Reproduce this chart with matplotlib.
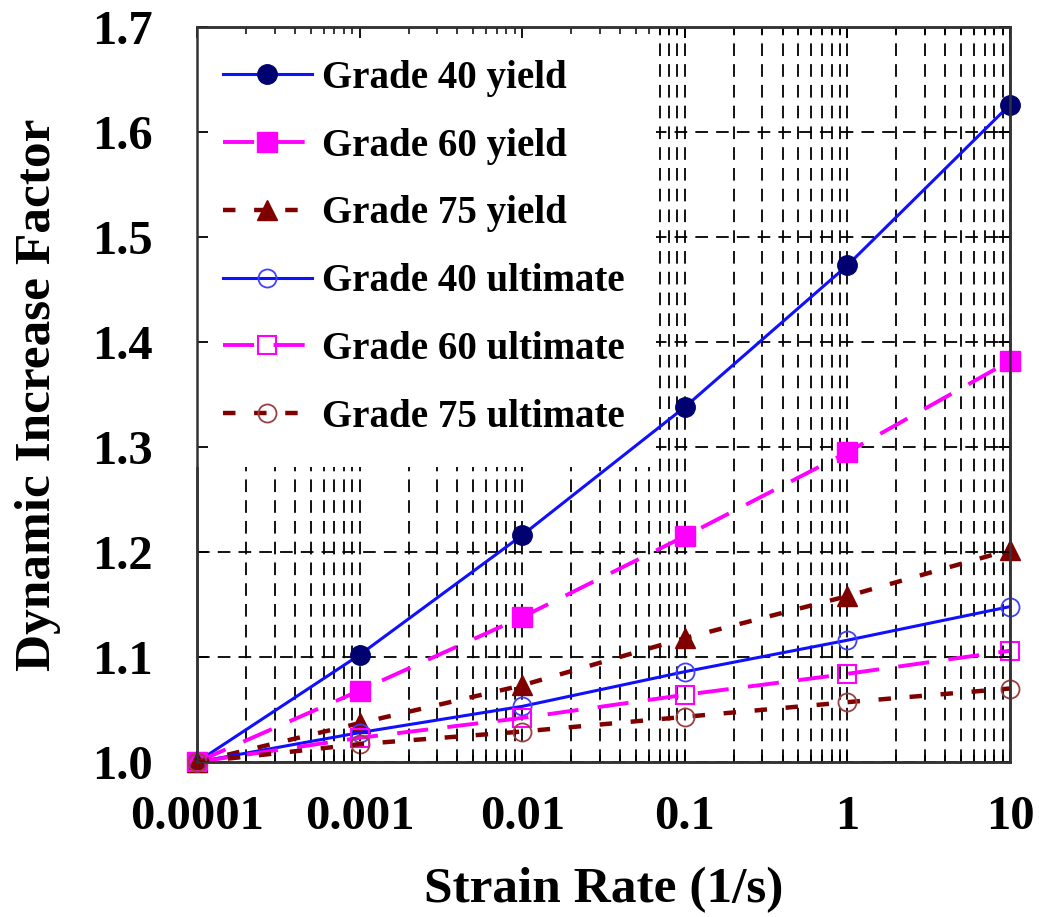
import matplotlib
matplotlib.use("Agg")
import matplotlib.pyplot as plt
from matplotlib.ticker import LogLocator, NullFormatter, FixedLocator, FixedFormatter

strain_rate = [1e-4, 1e-3, 1e-2, 1e-1, 1, 10]
x_ticklabels = ["0.0001", "0.001", "0.01", "0.1", "1", "10"]
y_ticks = [1.0, 1.1, 1.2, 1.3, 1.4, 1.5, 1.6, 1.7]
y_ticklabels = ['1.0', '1.1', '1.2', '1.3', '1.4', '1.5', '1.6', '1.7']

g40_yield = [1.0, 1.102, 1.216, 1.338, 1.473, 1.626]
g60_yield = [1.0, 1.068, 1.138, 1.215, 1.295, 1.382]
g75_yield = [1.0, 1.037, 1.073, 1.118, 1.158, 1.202]
g40_ult = [1.0, 1.028, 1.053, 1.086, 1.116, 1.148]
g60_ult = [1.0, 1.023, 1.042, 1.064, 1.084, 1.106]
g75_ult = [1.0, 1.017, 1.029, 1.043, 1.057, 1.070]

plt.rcParams['font.family'] = ['Liberation Serif', 'DejaVu Serif']
plt.rcParams['font.weight'] = 'bold'

fig = plt.figure(figsize=(10.39, 9.17), dpi=100)
pos = [197/1039, 1-762/917, (1010-197)/1039, (762-27)/917]
ax = fig.add_axes(pos)

blue = '#1010ff'
navy = '#000070'
mag = '#ff00ff'
dred = '#800000'
brown = '#9b4040'

common = dict(clip_on=False, zorder=5)
ax.plot(strain_rate, g40_yield, '-', color=blue, lw=2.2, marker='o', ms=14,
        mfc=navy, mec=navy, label='Grade 40 yield', **common)
ax.plot(strain_rate, g60_yield, color=mag, lw=2.8, dashes=(8, 5), marker='s', ms=14,
        mfc=mag, mec=mag, label='Grade 60 yield', **common)
ax.plot(strain_rate, g75_yield, color=dred, lw=3.2, dashes=(2.8, 4.2), marker='^', ms=14,
        mfc=dred, mec=dred, label='Grade 75 yield', **common)
ax.plot(strain_rate, g40_ult, '-', color=blue, lw=2.2, marker='o', ms=13,
        mfc='none', mec='#4040ff', mew=1.3, label='Grade 40 ultimate', **common)
ax.plot(strain_rate, g60_ult, color=mag, lw=2.8, dashes=(8, 5), marker='s', ms=13,
        mfc='none', mec=mag, mew=1.5, label='Grade 60 ultimate', **common)
ax.plot(strain_rate, g75_ult, color=dred, lw=3.2, dashes=(2.8, 4.2), marker='o', ms=13,
        mfc='none', mec=brown, mew=1.3, label='Grade 75 ultimate', **common)


def setup_axis(a):
    a.set_xscale('log')
    a.set_xlim(1e-4, 10)
    a.set_ylim(1.0, 1.7)
    a.xaxis.set_major_locator(FixedLocator(strain_rate))
    a.xaxis.set_major_formatter(FixedFormatter(x_ticklabels))
    a.xaxis.set_minor_locator(LogLocator(base=10, subs=range(2, 10)))
    a.xaxis.set_minor_formatter(NullFormatter())
    a.set_yticks(y_ticks)
    a.set_yticklabels(y_ticklabels)
    a.tick_params(which='both', direction='in', top=True, right=True, labelsize=35)
    a.tick_params(axis='x', pad=24)
    a.tick_params(axis='y', pad=32)
    a.tick_params(which='major', length=8, width=1.3)
    a.tick_params(which='minor', length=5, width=1.1)
    for s in a.spines.values():
        s.set_linewidth(1.8)
        s.set_color('#333333')


setup_axis(ax)
ax.grid(True, which='major', axis='both', color='black', linestyle=(0, (7, 4.5)), lw=1.3)
ax.grid(True, which='minor', axis='x', color='black', linestyle=(0, (7, 4.5)), lw=1.3)
ax.set_axisbelow(True)
for lab in ax.get_xticklabels() + ax.get_yticklabels():
    lab.set_fontweight('bold')

ax.set_xlabel('Strain Rate (1/s)', fontsize=37, fontweight='bold', labelpad=20)
ax.set_ylabel('Dynamic Increase Factor', fontsize=37, fontweight='bold', labelpad=22)

leg = ax.legend(loc='upper left', bbox_to_anchor=(-0.009, 1.0), frameon=True, fancybox=False,
                framealpha=1, edgecolor='none', facecolor='white',
                prop={'family': 'Liberation Serif', 'weight': 'bold', 'size': 28},
                handlelength=2.3, handletextpad=0.25, labelspacing=0.79,
                borderaxespad=0.05, borderpad=0.8)
leg.set_zorder(4)

# overlay axes: ticks and frame drawn on top of the legend box
ax2 = fig.add_axes(pos)
setup_axis(ax2)
ax2.patch.set_visible(False)
ax2.tick_params(which='both', labelbottom=False, labelleft=False)

fig.savefig('out.png', dpi=100)
